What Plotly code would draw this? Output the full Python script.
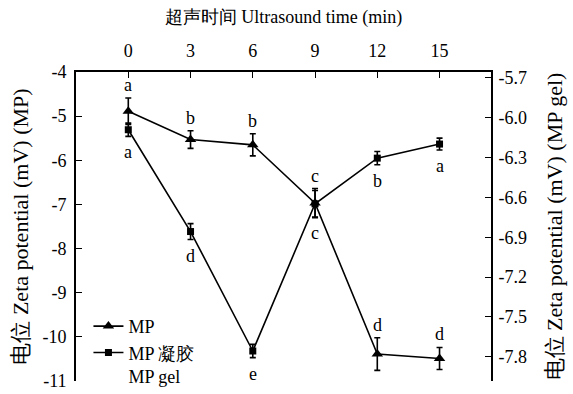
import plotly.graph_objects as go

# Ultrasound treatment time (min)
time_min = [0, 3, 6, 9, 12, 15]

# Zeta potential of MP (mV), left axis
mp_zeta = [-4.89, -5.53, -5.65, -6.97, -10.39, -10.49]
mp_err = [0.30, 0.20, 0.25, 0.33, 0.37, 0.25]
mp_letters = ["a", "b", "b", "c", "d", "d"]

# Zeta potential of MP gel (mV), right axis
gel_zeta = [-6.09, -6.857, -7.757, -6.648, -6.304, -6.198]
gel_err = [0.05, 0.06, 0.05, 0.10, 0.05, 0.045]
gel_letters = ["a", "d", "e", "c", "b", "a"]

# Tick labels
x_ticks = [0, 3, 6, 9, 12, 15]
left_ticks = [-4, -5, -6, -7, -8, -9, -10, -11]
left_ticktext = ["-4", "-5", "-6", "-7", "-8", "-9", "-10", "-11"]
right_ticks = [-5.7, -6.0, -6.3, -6.6, -6.9, -7.2, -7.5, -7.8]
right_ticktext = ["-5.7", "-6.0", "-6.3", "-6.6", "-6.9", "-7.2", "-7.5", "-7.8"]

FONT = "Liberation Serif"
BLACK = "#000000"
TICK_FS = 18
TITLE_FS = 18
YTITLE_FS = 22

fig = go.Figure()

fig.add_trace(go.Scatter(
    x=time_min, y=mp_zeta, name="MP", mode="lines+markers",
    line=dict(color=BLACK, width=1.6),
    marker=dict(symbol="triangle-up", size=10, color=BLACK),
    error_y=dict(type="data", array=mp_err, color=BLACK, thickness=1.6, width=3),
    yaxis="y",
))
fig.add_trace(go.Scatter(
    x=time_min, y=gel_zeta, name="MP 凝胶<br>MP gel", mode="lines+markers",
    line=dict(color=BLACK, width=1.6),
    marker=dict(symbol="square", size=7, color=BLACK),
    error_y=dict(type="data", array=gel_err, color=BLACK, thickness=1.6, width=3),
    yaxis="y2",
))

# Significance letters: above MP points, below MP gel points
for t, v, e, s in zip(time_min, mp_zeta, mp_err, mp_letters):
    fig.add_annotation(x=t, y=v + e, yref="y", text=s, showarrow=False,
                       yanchor="middle", yshift=13,
                       font=dict(family=FONT, size=TICK_FS, color=BLACK))
for t, v, e, s in zip(time_min, gel_zeta, gel_err, gel_letters):
    fig.add_annotation(x=t, y=v - e, yref="y2", text=s, showarrow=False,
                       yanchor="middle", yshift=-16,
                       font=dict(family=FONT, size=TICK_FS, color=BLACK))

axis_common = dict(
    ticks="inside", ticklen=6, tickwidth=1.2, tickcolor=BLACK,
    showline=True, linecolor=BLACK, linewidth=1.6,
    showgrid=False, zeroline=False, automargin=False,
    tickfont=dict(family=FONT, size=TICK_FS, color=BLACK),
)

fig.update_layout(
    template="none",
    width=573, height=394,
    margin=dict(l=76, r=82, t=72, b=13, autoexpand=False),
    paper_bgcolor="white", plot_bgcolor="white",
    font=dict(family=FONT, size=TICK_FS, color=BLACK),
    xaxis=dict(
        side="top", range=[-2.52, 17.48], tickvals=x_ticks,
        ticklabelstandoff=6,
        title=dict(text="超声时间 Ultrasound time (min)", standoff=13,
                   font=dict(family=FONT, size=TITLE_FS, color=BLACK)),
        **axis_common,
    ),
    yaxis=dict(
        range=[-11, -4], tickvals=left_ticks, ticktext=left_ticktext,
        ticklabelstandoff=4,
        title=dict(text="电位 Zeta potential (mV) (MP)", standoff=8,
                   font=dict(family=FONT, size=YTITLE_FS, color=BLACK)),
        **axis_common,
    ),
    yaxis2=dict(
        overlaying="y", side="right", range=[-7.983, -5.655],
        tickvals=right_ticks, ticktext=right_ticktext,
        ticklabelstandoff=2,
        title=dict(text="电位 Zeta potential (mV) (MP gel)", standoff=21,
                   font=dict(family=FONT, size=YTITLE_FS, color=BLACK)),
        **axis_common,
    ),
    legend=dict(
        x=0.03, y=-0.045, xanchor="left", yanchor="bottom",
        bgcolor="rgba(0,0,0,0)", borderwidth=0, valign="top",
        tracegroupgap=0, itemwidth=30,
        font=dict(family=FONT, size=18, color=BLACK),
    ),
    showlegend=True,
)

fig.write_html("out.html")
